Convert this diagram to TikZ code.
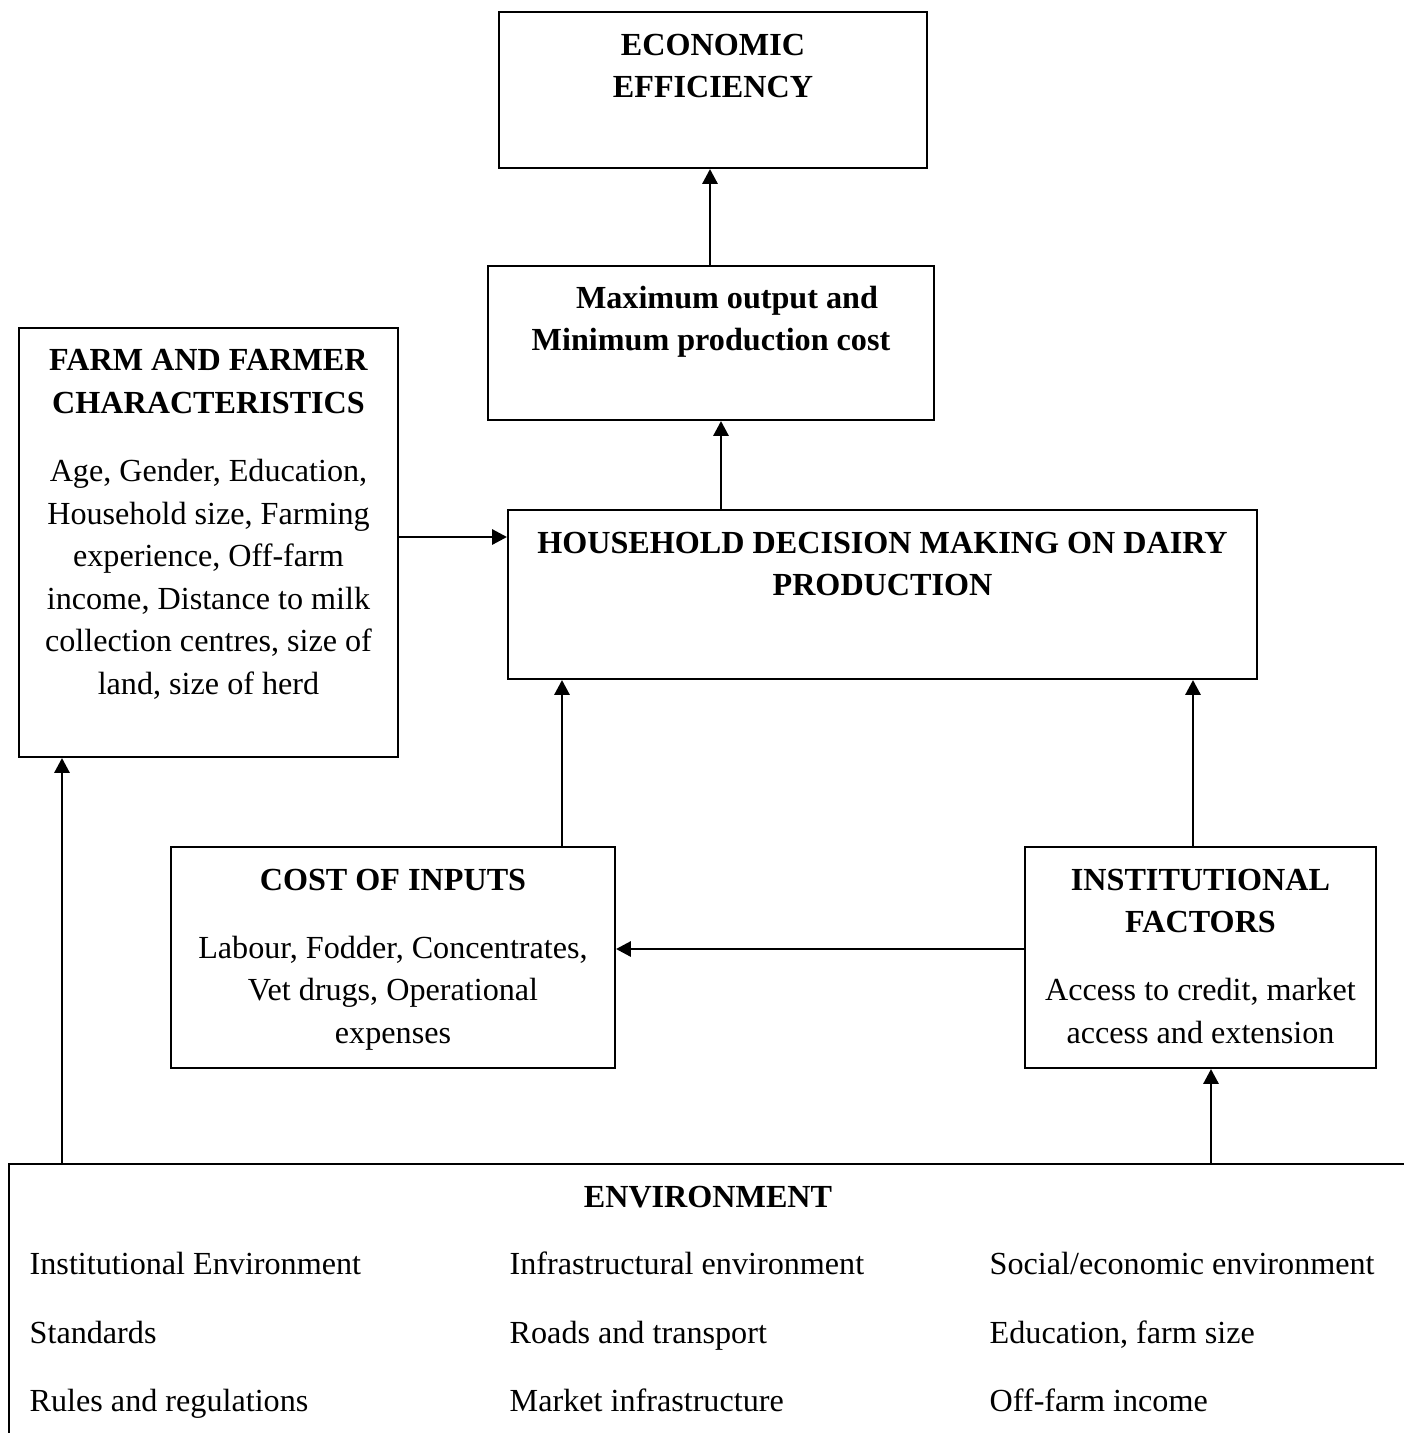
\documentclass[tikz,border=0pt]{standalone}
\usepackage{fontspec}
\setmainfont{Liberation Serif}
\usepackage{tikz}
\usetikzlibrary{shapes,arrows,arrows.meta,positioning}

\begin{document}
\begin{tikzpicture}[
        x=0.1mm, y=-0.1mm,
        box/.style={rectangle, draw, line width=0.6pt, inner sep=0pt},
        txt/.style={anchor=north, align=center, inner sep=0pt, font=\fontsize{9.15}{12.1}\selectfont},
        item/.style={anchor=base west, inner sep=0pt, font=\fontsize{9.15}{12.1}\selectfont},
        line/.style={draw, -{Triangle[length=4.2pt,width=4.3pt]}, line width=0.65pt}
    ]
    \useasboundingbox (0,0) rectangle (1403,1433);
    % boxes
    \node [box, minimum width=4.28cm, minimum height=1.56cm] (econ) at (713,90) {};
    \node [box, minimum width=4.46cm, minimum height=1.54cm] (output) at (711,343) {};
    \node [box, minimum width=3.79cm, minimum height=4.29cm] (farm) at (208.5,542.5) {};
    \node [box, minimum width=7.49cm, minimum height=1.69cm] (house) at (882.5,594.5) {};
    \node [box, minimum width=4.44cm, minimum height=2.21cm] (inputs) at (393,957.5) {};
    \node [box, minimum width=3.51cm, minimum height=2.21cm] (inst) at (1200.5,957.5) {};
    \node [box, minimum width=14.2cm, minimum height=3.0cm] (env) at (719,1314) {};
    % texts
    \node [txt] (econtxt) at (713,33) {\textbf{ECONOMIC}\\\textbf{EFFICIENCY}};
    \node [txt] (outputtxt) at (711,285) {\textbf{\hspace*{0.32cm}Maximum output and}\\\textbf{Minimum production cost}};
    \node [txt] (farmtxt) at (208.5,349) {\textbf{FARM AND FARMER}\\\textbf{CHARACTERISTICS}\\[7.3pt]
        Age, Gender, Education,\\Household size, Farming\\experience, Off-farm\\income, Distance to milk\\collection centres, size of\\land, size of herd};
    \node [txt] (housetxt) at (882.5,531) {\textbf{HOUSEHOLD DECISION MAKING ON DAIRY}\\\textbf{PRODUCTION}};
    \node [txt] (inputstxt) at (393,868) {\textbf{COST OF INPUTS}\\[7.3pt]
        Labour, Fodder, Concentrates,\\Vet drugs, Operational\\expenses};
    \node [txt] (insttxt) at (1200.5,868) {\textbf{INSTITUTIONAL}\\\textbf{FACTORS}\\[7.3pt]
        Access to credit, market\\access and extension};
    \node [txt] (envtxt) at (708,1185) {\textbf{ENVIRONMENT}};
    \node [item] (ie) at (29,1274) {Institutional Environment};
    \node [item] (st) at (29,1343) {Standards};
    \node [item] (rr) at (29,1411) {Rules and regulations};
    \node [item] (fe) at (509,1274) {Infrastructural environment};
    \node [item] (rt) at (509,1343) {Roads and transport};
    \node [item] (mi) at (509,1411) {Market infrastructure};
    \node [item] (se) at (989,1274) {Social/economic environment};
    \node [item] (ef) at (989,1343) {Education, farm size};
    \node [item] (oi) at (989,1411) {Off-farm income};
    % connector positions
    \coordinate (xa) at (710,0);
    \coordinate (xb) at (721,0);
    \coordinate (xc) at (562,0);
    \coordinate (xd) at (1193,0);
    \coordinate (xe) at (1211,0);
    \coordinate (xf) at (62,0);
    \coordinate (ya) at (0,537);
    \coordinate (yb) at (0,949);
    % connectors
    \path [line] (xa |- output.north) -- (xa |- econ.south);
    \path [line] (xb |- house.north) -- (xb |- output.south);
    \path [line] (farm.east |- ya) -- (house.west |- ya);
    \path [line] (xc |- inputs.north) -- (xc |- house.south);
    \path [line] (xd |- inst.north) -- (xd |- house.south);
    \path [line] (inst.west |- yb) -- (inputs.east |- yb);
    \path [line] (xe |- env.north) -- (xe |- inst.south);
    \path [line] (xf |- env.north) -- (xf |- farm.south);
\end{tikzpicture}
\end{document}
